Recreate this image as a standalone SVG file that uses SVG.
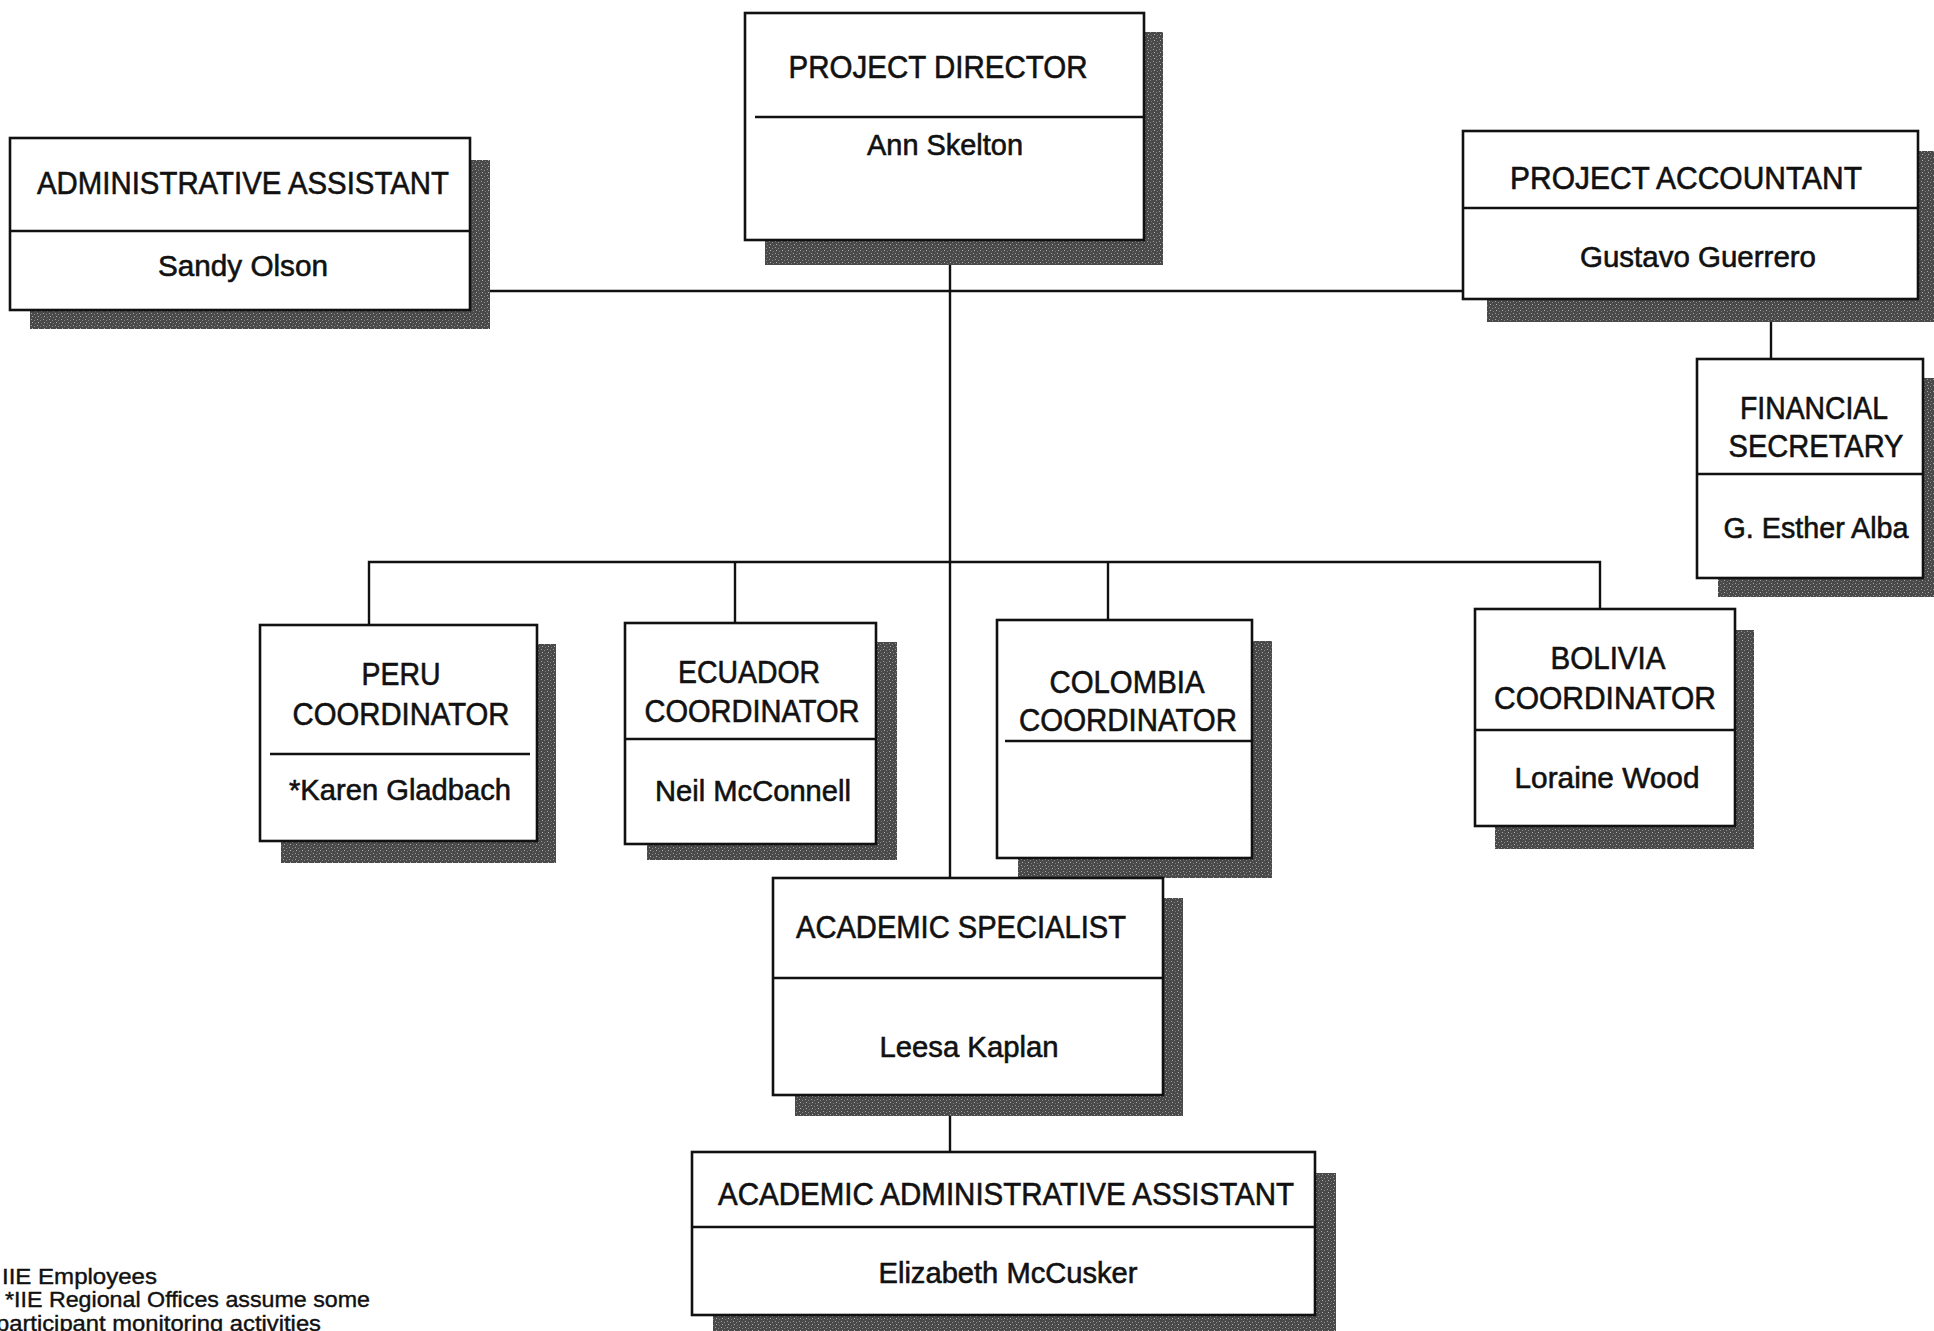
<svg xmlns="http://www.w3.org/2000/svg" width="1934" height="1331" viewBox="0 0 1934 1331">
<style>
.box{fill:#fff;stroke:#111;stroke-width:2.6}
.sh{fill:url(#stip)}
.div{stroke:#111;stroke-width:2.6}
.con{stroke:#111;stroke-width:2.4;fill:none}
text{font-family:"Liberation Sans",Arial,sans-serif;fill:#111;stroke:#111;stroke-width:0.6;text-anchor:middle}
.t{font-size:32px}
.n{font-size:30px}
.f{font-size:22px;text-anchor:start;stroke-width:0.4}
</style>
<defs>
<pattern id="stip" width="6" height="6" patternUnits="userSpaceOnUse">
<rect width="6" height="6" fill="#4a4a4a"/>
<rect x="1" y="1" width="1" height="1" fill="#a0a0a0"/>
<rect x="4" y="2" width="1" height="1" fill="#8a8a8a"/>
<rect x="2" y="4" width="1" height="1" fill="#b0b0b0"/>
<rect x="5" y="5" width="1" height="1" fill="#7a7a7a"/>
</pattern>
</defs>
<rect width="1934" height="1331" fill="#fff"/>

<g id="connectors">
<line class="con" x1="490" y1="291" x2="1463" y2="291"/>
<line class="con" x1="950" y1="265" x2="950" y2="878"/>
<line class="con" x1="1771" y1="322" x2="1771" y2="359"/>
<polyline class="con" points="369,625 369,562 1600,562 1600,609"/>
<line class="con" x1="735" y1="562" x2="735" y2="623"/>
<line class="con" x1="1108" y1="562" x2="1108" y2="620"/>
<line class="con" x1="950" y1="1116" x2="950" y2="1152"/>
</g>

<g id="project-director">
<rect class="sh" x="765" y="32" width="398" height="233"/>
<rect class="box" x="745" y="13" width="399" height="227"/>
<line class="div" x1="755" y1="117" x2="1144" y2="117"/>
<text class="t" x="938" y="78" textLength="299" lengthAdjust="spacingAndGlyphs">PROJECT DIRECTOR</text>
<text class="n" x="945" y="155" textLength="156" lengthAdjust="spacingAndGlyphs">Ann Skelton</text>
</g>

<g id="administrative-assistant">
<rect class="sh" x="30" y="160" width="460" height="169"/>
<rect class="box" x="10" y="138" width="460" height="172"/>
<line class="div" x1="10" y1="231" x2="470" y2="231"/>
<text class="t" x="243" y="194" textLength="412" lengthAdjust="spacingAndGlyphs">ADMINISTRATIVE ASSISTANT</text>
<text class="n" x="243" y="276" textLength="170" lengthAdjust="spacingAndGlyphs">Sandy Olson</text>
</g>

<g id="project-accountant">
<rect class="sh" x="1487" y="151" width="460" height="171"/>
<rect class="box" x="1463" y="131" width="455" height="168"/>
<line class="div" x1="1463" y1="208" x2="1918" y2="208"/>
<text class="t" x="1686" y="189" textLength="352" lengthAdjust="spacingAndGlyphs">PROJECT ACCOUNTANT</text>
<text class="n" x="1698" y="267" textLength="236" lengthAdjust="spacingAndGlyphs">Gustavo Guerrero</text>
</g>

<g id="financial-secretary">
<rect class="sh" x="1718" y="378" width="230" height="219"/>
<rect class="box" x="1697" y="359" width="226" height="219"/>
<line class="div" x1="1697" y1="474" x2="1923" y2="474"/>
<text class="t" x="1814" y="419" textLength="148" lengthAdjust="spacingAndGlyphs">FINANCIAL</text>
<text class="t" x="1816" y="457" textLength="175" lengthAdjust="spacingAndGlyphs">SECRETARY</text>
<text class="n" x="1816" y="538" textLength="185" lengthAdjust="spacingAndGlyphs">G. Esther Alba</text>
</g>

<g id="peru-coordinator">
<rect class="sh" x="281" y="644" width="275" height="219"/>
<rect class="box" x="260" y="625" width="277" height="216"/>
<line class="div" x1="270" y1="754" x2="530" y2="754"/>
<text class="t" x="401" y="685" textLength="79" lengthAdjust="spacingAndGlyphs">PERU</text>
<text class="t" x="401" y="725" textLength="217" lengthAdjust="spacingAndGlyphs">COORDINATOR</text>
<text class="n" x="400" y="800" textLength="222" lengthAdjust="spacingAndGlyphs">*Karen Gladbach</text>
</g>

<g id="ecuador-coordinator">
<rect class="sh" x="647" y="642" width="250" height="218"/>
<rect class="box" x="625" y="623" width="251" height="221"/>
<line class="div" x1="625" y1="739" x2="876" y2="739"/>
<text class="t" x="749" y="683" textLength="142" lengthAdjust="spacingAndGlyphs">ECUADOR</text>
<text class="t" x="752" y="722" textLength="215" lengthAdjust="spacingAndGlyphs">COORDINATOR</text>
<text class="n" x="753" y="801" textLength="196" lengthAdjust="spacingAndGlyphs">Neil McConnell</text>
</g>

<g id="colombia-coordinator">
<rect class="sh" x="1018" y="641" width="254" height="237"/>
<rect class="box" x="997" y="620" width="255" height="238"/>
<line class="div" x1="1005" y1="741" x2="1252" y2="741"/>
<text class="t" x="1127" y="693" textLength="155" lengthAdjust="spacingAndGlyphs">COLOMBIA</text>
<text class="t" x="1128" y="731" textLength="218" lengthAdjust="spacingAndGlyphs">COORDINATOR</text>
</g>

<g id="bolivia-coordinator">
<rect class="sh" x="1495" y="630" width="259" height="219"/>
<rect class="box" x="1475" y="609" width="260" height="217"/>
<line class="div" x1="1475" y1="730" x2="1735" y2="730"/>
<text class="t" x="1608" y="669" textLength="115" lengthAdjust="spacingAndGlyphs">BOLIVIA</text>
<text class="t" x="1605" y="709" textLength="222" lengthAdjust="spacingAndGlyphs">COORDINATOR</text>
<text class="n" x="1607" y="788" textLength="185" lengthAdjust="spacingAndGlyphs">Loraine Wood</text>
</g>

<g id="academic-specialist">
<rect class="sh" x="795" y="898" width="388" height="218"/>
<rect class="box" x="773" y="878" width="390" height="217"/>
<line class="div" x1="773" y1="978" x2="1163" y2="978"/>
<text class="t" x="961" y="938" textLength="330" lengthAdjust="spacingAndGlyphs">ACADEMIC SPECIALIST</text>
<text class="n" x="969" y="1057" textLength="179" lengthAdjust="spacingAndGlyphs">Leesa Kaplan</text>
</g>

<g id="academic-administrative-assistant">
<rect class="sh" x="713" y="1173" width="623" height="170"/>
<rect class="box" x="692" y="1152" width="623" height="163"/>
<line class="div" x1="692" y1="1227" x2="1315" y2="1227"/>
<text class="t" x="1006" y="1205" textLength="576" lengthAdjust="spacingAndGlyphs">ACADEMIC ADMINISTRATIVE ASSISTANT</text>
<text class="n" x="1008" y="1283" textLength="259" lengthAdjust="spacingAndGlyphs">Elizabeth McCusker</text>
</g>

<g id="footnote">
<text class="f" x="2" y="1284" textLength="155" lengthAdjust="spacingAndGlyphs">IIE Employees</text>
<text class="f" x="5" y="1307" textLength="365" lengthAdjust="spacingAndGlyphs">*IIE Regional Offices assume some</text>
<text class="f" x="-4" y="1331" textLength="325" lengthAdjust="spacingAndGlyphs">participant monitoring activities</text>
</g>
</svg>
